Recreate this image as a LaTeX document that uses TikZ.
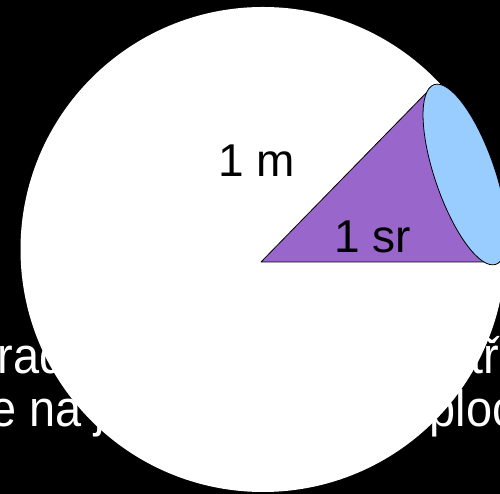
\documentclass[tikz,border=0pt]{standalone}
\usepackage{fontspec}
\setmainfont{Liberation Sans}
\begin{document}
\begin{tikzpicture}[x=1pt,y=1pt,
  bigtext/.style={text=white,inner sep=0pt,outer sep=0pt,anchor=base west,font=\fontsize{51}{60}\selectfont},
  label/.style={text=black,inner sep=0pt,outer sep=0pt,anchor=base west,font=\fontsize{46}{54}\selectfont},
  outline/.style={draw=black,line width=0.8pt,line join=round}]
\definecolor{conepurple}{HTML}{9966CC}
\definecolor{capblue}{HTML}{99CCFF}
\useasboundingbox (0,0) rectangle (500,494);
\clip (0,0) rectangle (500,494);
\fill[black] (0,0) rectangle (500,494);
% caption text (mostly hidden behind the white disc)
\node[bigtext] (line1) at (-73,120) {\scalebox{0.92}[1]{Steradián je úhel, jenž\hspace{46pt} středem koule}};
\node[bigtext] (line2) at (-96,67) {\scalebox{0.92}[1]{vytne na jejím\hspace{47pt} povrchu plochu 1 m²}};
% white sphere
\fill[white] (263,244.5) circle[radius=242.5];
% cone section
\coordinate (A) at (261,232);
\coordinate (B) at (431,406);
\coordinate (C) at (493,232);
\filldraw[outline,fill=conepurple] (A) -- (B) -- (C) -- cycle;
% spherical cap
\filldraw[outline,fill=capblue] (465,319.5) ellipse[x radius=95,y radius=30,rotate=-71];
% labels
\node[label] (radius) at (218,317) {1 m};
\node[label] (angle) at (334,241) {1 sr};
\end{tikzpicture}
\end{document}
